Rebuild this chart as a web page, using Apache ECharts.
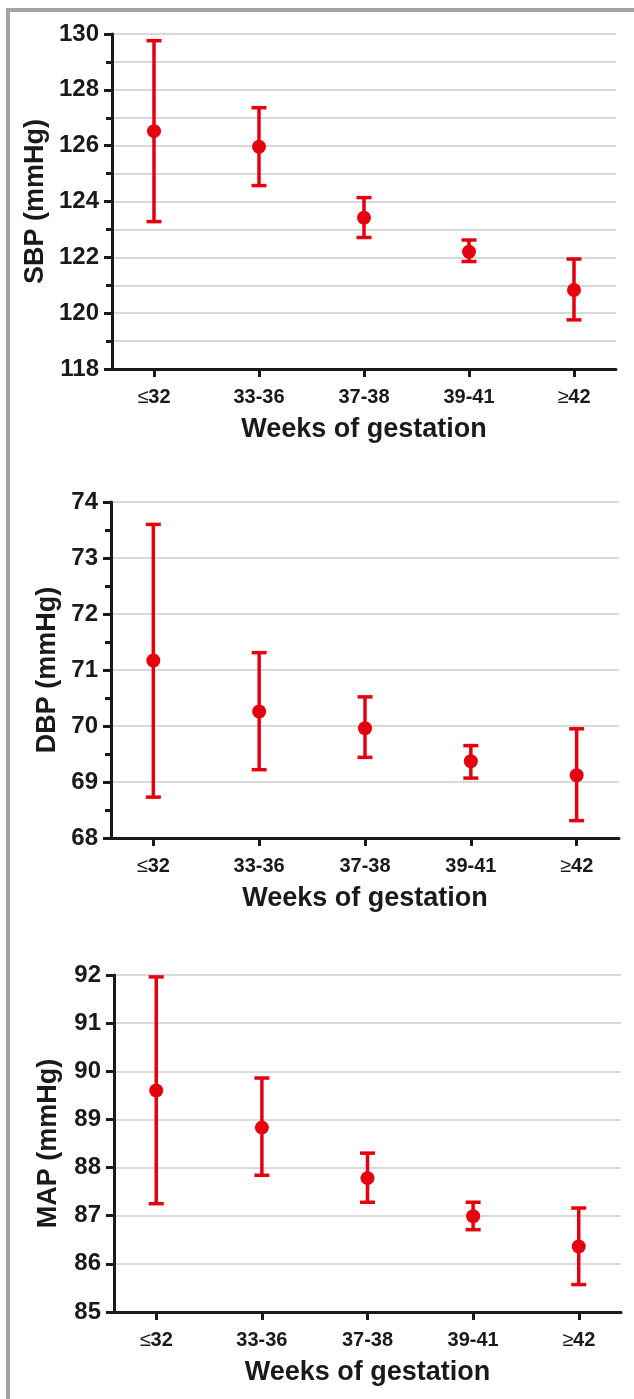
<!DOCTYPE html>
<html>
<head>
<meta charset="utf-8">
<script src="https://cdn.jsdelivr.net/npm/echarts@6.0.0/dist/echarts.min.js"></script>
<style>
  html, body { margin: 0; padding: 0; background: #ffffff; }
  #frame { position: absolute; left: 6px; top: 8px; width: 628px; height: 1391px;
           border-left: 4px solid #a3a3a3; border-top: 4px solid #a3a3a3; box-sizing: border-box; }
  #chart { position: absolute; left: 0; top: 0; width: 634px; height: 1399px; }
</style>
</head>
<body>
<div id="frame"></div>
<div id="chart"></div>
<script>
// ---- data ----
const categories = ['≤32', '33-36', '37-38', '39-41', '≥42'];

const sbpMean = [126.52, 125.96, 123.42, 122.20, 120.83];
const sbpLow  = [123.28, 124.57, 122.71, 121.85, 119.76];
const sbpHigh = [129.76, 127.36, 124.14, 122.62, 121.94];

const dbpMean = [71.17, 70.26, 69.96, 69.37, 69.12];
const dbpLow  = [68.73, 69.22, 69.44, 69.07, 68.31];
const dbpHigh = [73.60, 71.31, 70.52, 69.65, 69.95];

const mapMean = [89.60, 88.83, 87.78, 86.99, 86.36];
const mapLow  = [87.25, 87.84, 87.28, 86.71, 85.57];
const mapHigh = [91.96, 89.86, 88.30, 87.28, 87.16];

const yTitles = ['SBP (mmHg)', 'DBP (mmHg)', 'MAP (mmHg)'];
const xTitle = 'Weeks of gestation';

// ---- styling ----
const RED = '#e5000f';
const INK = '#1a1a1a';
const FONT = '"Liberation Sans", Arial, sans-serif';

const chart = echarts.init(document.getElementById('chart'), null, { renderer: 'canvas' });

const panels = [
  { mean: sbpMean, low: sbpLow, high: sbpHigh, min: 118, max: 130, interval: 2, minor: true, minorGrid: true,
    grid: { left: 112, right: 18, top: 34, height: 335 }, yGap: 63 },
  { mean: dbpMean, low: dbpLow, high: dbpHigh, min: 68, max: 74, interval: 1, minor: true, minorGrid: false,
    grid: { left: 111, right: 15, top: 502, height: 336 }, yGap: 50 },
  { mean: mapMean, low: mapLow, high: mapHigh, min: 85, max: 92, interval: 1, minor: false, minorGrid: false,
    grid: { left: 114, right: 13, top: 975, height: 337 }, yGap: 52 }
];

const tickIdx = categories.map((c, i) => i);

const grids = [], xAxes = [], yAxes = [], series = [];

panels.forEach((p, k) => {
  grids.push(Object.assign({ containLabel: false }, p.grid));
  xAxes.push({
    type: 'value', gridIndex: k, min: -0.4, max: 4.4,
    name: xTitle, nameLocation: 'middle', nameGap: 47, nameMoveOverlap: false,
    nameTextStyle: { fontFamily: FONT, fontWeight: 'bold', fontSize: 27, color: INK },
    axisLine: { show: true, onZero: false, lineStyle: { color: INK, width: 3 } },
    axisTick: { show: true, customValues: tickIdx, length: 8, lineStyle: { color: INK, width: 3 } },
    axisLabel: {
      show: true, customValues: tickIdx, margin: 18,
      fontFamily: FONT, fontWeight: 'bold', fontSize: 20, color: INK,
      formatter: function (v) {
        const c = categories[Math.round(v)] || '';
        if (c.charAt(0) === '≤' || c.charAt(0) === '≥') return '{t|' + c.charAt(0) + '}' + c.slice(1);
        return c;
      },
      rich: { t: { fontFamily: FONT, fontWeight: 'normal', fontSize: 20, color: INK } }
    },
    splitLine: { show: false }
  });
  yAxes.push({
    type: 'value', gridIndex: k, min: p.min, max: p.max, interval: p.interval,
    name: yTitles[k], nameLocation: 'middle', nameGap: p.yGap, nameMoveOverlap: false,
    nameTextStyle: { fontFamily: FONT, fontWeight: 'bold', fontSize: 27, color: INK },
    axisLine: { show: true, onZero: false, lineStyle: { color: INK, width: 3 } },
    axisTick: { show: true, length: 8, lineStyle: { color: INK, width: 3 } },
    minorTick: { show: p.minor, splitNumber: 2, length: 6, lineStyle: { color: INK, width: 3 } },
    minorSplitLine: { show: p.minorGrid, lineStyle: { color: '#cccccc', width: 1.5 } },
    axisLabel: { margin: 13, fontFamily: FONT, fontWeight: 'bold', fontSize: 24, color: INK },
    splitLine: { show: true, lineStyle: { color: '#cccccc', width: 1.5 } }
  });

  series.push({
    type: 'custom', xAxisIndex: k, yAxisIndex: k, z: 3,
    renderItem: function (params, api) {
      const x = api.value(0);
      const top = api.coord([x, api.value(2)]);
      const bot = api.coord([x, api.value(1)]);
      const hw = 7.5;
      const st = { stroke: RED, lineWidth: 3.5, fill: null };
      return {
        type: 'group',
        children: [
          { type: 'line', shape: { x1: top[0], y1: top[1], x2: bot[0], y2: bot[1] }, style: st },
          { type: 'line', shape: { x1: top[0] - hw, y1: top[1], x2: top[0] + hw, y2: top[1] }, style: st },
          { type: 'line', shape: { x1: bot[0] - hw, y1: bot[1], x2: bot[0] + hw, y2: bot[1] }, style: st }
        ]
      };
    },
    data: categories.map((c, i) => [i, p.low[i], p.high[i]]),
    silent: true
  });
  series.push({
    type: 'scatter', xAxisIndex: k, yAxisIndex: k, z: 4,
    symbol: 'circle', symbolSize: 14,
    itemStyle: { color: RED, opacity: 1 },
    data: categories.map((c, i) => [i, p.mean[i]]),
    silent: true
  });
});

chart.setOption({
  backgroundColor: 'transparent',
  animation: false,
  grid: grids,
  xAxis: xAxes,
  yAxis: yAxes,
  series: series
});
</script>
</body>
</html>
